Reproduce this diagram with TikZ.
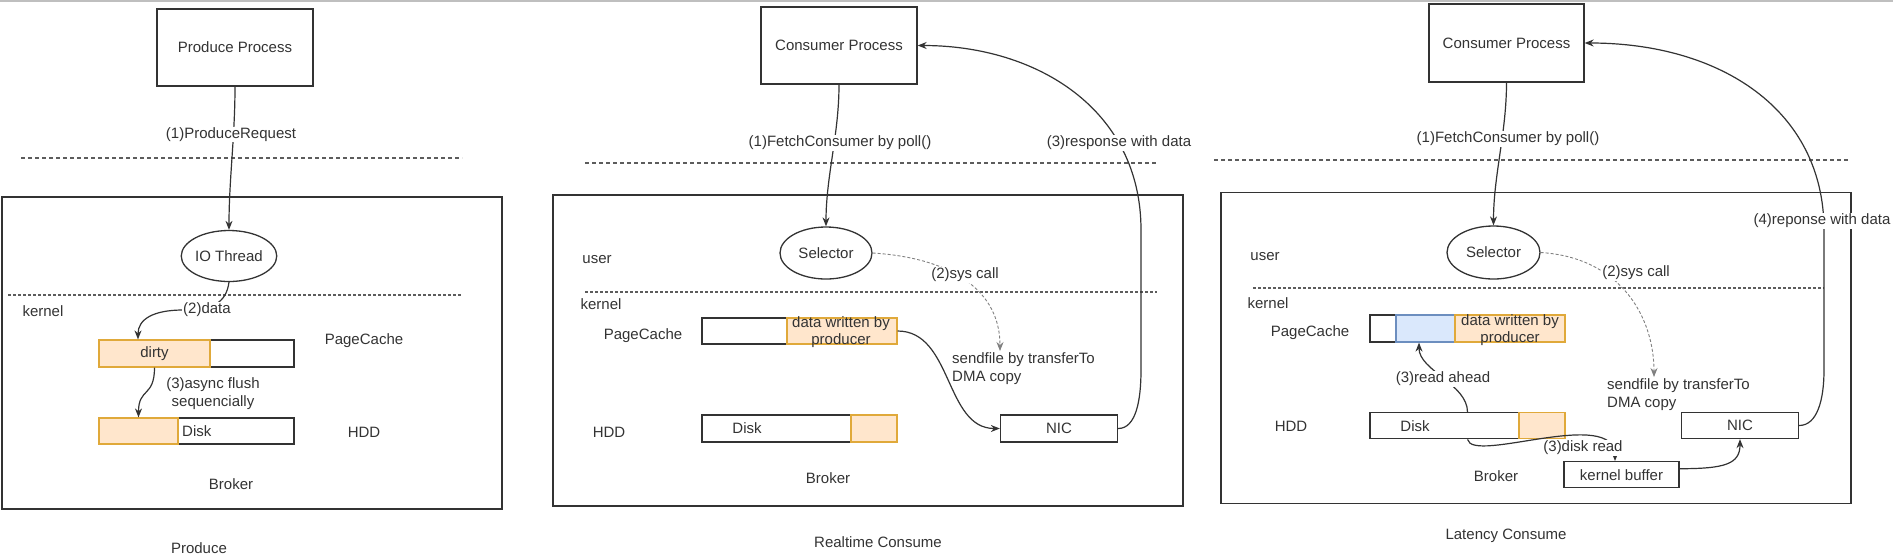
\documentclass[tikz,border=0pt]{standalone}
\usepackage{fontspec}
\setmainfont{Liberation Sans}
\usepackage{tikz}
\usetikzlibrary{shapes.geometric, arrows.meta, calc}
\usepackage{xcolor}
\definecolor{dirtyfill}{HTML}{FFE6CC}
\definecolor{dirtyline}{HTML}{E0A93A}
\definecolor{aheadfill}{HTML}{DAE8FC}
\definecolor{aheadline}{HTML}{6C8EBF}
\definecolor{inkgray}{HTML}{333333}

\begin{document}
\begin{tikzpicture}[x=1pt, y=-1pt, font=\fontsize{15}{18}\selectfont, text=inkgray]
			\tikzstyle{procbox}=[
			draw=inkgray,
			line width=1.3pt,
			minimum width=156pt,
			minimum height=77pt,
			inner sep=0pt
			]
			\tikzstyle{framebox}=[
			draw=inkgray,
			line width=1.3pt,
			minimum width=630pt,
			minimum height=311pt,
			inner sep=0pt
			]
			\tikzstyle{threadnode}=[
			draw=inkgray,
			line width=1.3pt,
			ellipse,
			minimum width=92pt,
			minimum height=52pt,
			inner sep=0pt
			]
			\tikzstyle{barnode}=[draw=inkgray, line width=1.3pt, fill=white, minimum width=195pt, minimum height=26pt, inner sep=0pt]
			\tikzstyle{dirtypart}=[draw=dirtyline, line width=1.2pt, fill=dirtyfill, minimum height=26pt, inner sep=0pt]
			\tikzstyle{aheadpart}=[draw=aheadline, line width=1.2pt, fill=aheadfill, minimum height=26pt, inner sep=0pt]
			\tikzstyle{smallbox}=[draw=inkgray, line width=1.3pt, minimum width=117pt, minimum height=26pt, inner sep=0pt]
			\tikzstyle{plain}=[inner sep=1pt, align=center]
			\tikzstyle{edgelabel}=[fill=white, inner sep=1pt, align=center]
			\tikzstyle{flow}=[draw=inkgray, line width=1.2pt, -{Stealth[length=9pt, width=7pt]}]
			\tikzstyle{syscall}=[draw=gray, line width=0.9pt, dash pattern=on 3pt off 2pt, -{Stealth[length=9pt, width=7pt]}]
			\tikzstyle{upperline}=[draw=inkgray!80, line width=1.2pt, dash pattern=on 4pt off 3pt]
			\tikzstyle{lowerline}=[draw=inkgray!80, line width=1.2pt, dash pattern=on 2.5pt off 2.5pt]
			\useasboundingbox (0,0) rectangle (1893,558);
			\draw[gray!50, line width=2pt] (0,1) -- (1893,1);
			% produce
			\node[procbox] (PPROC) at (235,47.5) {Produce Process};
			\draw[upperline] (21,158) -- (462,158);
			\node[framebox, minimum width=500pt, minimum height=312pt] (BROKA) at (252,353) {};
			\node[threadnode, minimum height=51pt] (IOT) at (229,256) {IO Thread};
			\draw[lowerline] (8,295) -- (462,295);
			\node[plain] (KERNA) at (43,311) {kernel};
			\node[barnode, minimum height=27pt] (PCA) at (196.5,353.5) {};
			\node[dirtypart, minimum width=111pt, minimum height=27pt] (DIRTY) at (154.5,353.5) {dirty};
			\node[plain] (PCLA) at (364,341) {PageCache};
			\node[barnode] (DSKA) at (196.5,431) {};
			\node[dirtypart, minimum width=79pt] (DSKAO) at (138.5,431) {};
			\node[plain, anchor=west] (DSKTA) at (181,431) {Disk};
			\node[plain] (HDDA) at (364,432) {HDD};
			\node[plain] (BRKA) at (231,484) {Broker};
			\node[plain] (TTLA) at (199,548) {Produce};
			\draw[flow] (PPROC.south) .. controls +(0,50) and +(0,-50) .. (IOT.north);
			\draw[flow] (IOT.south) .. controls +(-3,22) and +(28,0) .. (183,310) .. controls +(-30,0) and +(0,-20) .. ([xshift=-16.5pt]DIRTY.north);
			\draw[flow] (DIRTY.south) .. controls +(0,30) and +(0,-30) .. (DSKAO.north);
			\node[edgelabel] (REQA) at (231,134.5) {(1)ProduceRequest};
			\node[edgelabel] (DATAA) at (207,310) {(2)data};
			\node[plain] (FLSA) at (213,393.5) {(3)async flush\\sequencially};
			% realtime consume
			\node[procbox] (CPB) at (839,45.5) {Consumer Process};
			\draw[upperline] (585,163) -- (1157,163);
			\node[framebox] (BROKB) at (868,350.5) {};
			\node[threadnode] (SELB) at (826,253) {Selector};
			\node[plain] (USRB) at (597,260) {user};
			\draw[lowerline] (585,292) -- (1157,292);
			\node[plain] (KERNB) at (601,304) {kernel};
			\node[plain] (PCLB) at (643,336) {PageCache};
			\node[barnode] (PCB) at (799.5,331) {};
			\node[dirtypart, minimum width=110pt] (PCBO) at (842,331) {};
			\node[plain, font=\fontsize{15}{17}\selectfont] (WRTB) at (841,332.5) {data written by\\producer};
			\node[plain, anchor=north west, align=left] (SNDB) at (951,351) {sendfile by transferTo\\DMA copy};
			\node[plain] (HDDB) at (609,432) {HDD};
			\node[barnode, minimum height=27pt] (DSKB) at (799.5,428.5) {};
			\node[dirtypart, minimum width=46pt, minimum height=27pt] (DSKBO) at (874,428.5) {};
			\node[plain] (DSKTB) at (747,428.5) {Disk};
			\node[smallbox, minimum height=27pt] (NICB) at (1059,428.5) {NIC};
			\node[plain] (BRKB) at (828,478) {Broker};
			\node[plain] (TTLB) at (878,542) {Realtime Consume};
			\draw[flow] (CPB.south) .. controls +(0,50) and +(0,-50) .. (SELB.north);
			\draw[syscall] (SELB.east) .. controls +(80,5) and +(0,-60) .. ([xshift=49pt]SNDB.north west);
			\draw[flow] (PCBO.east) .. controls +(55,0) and +(-55,0) .. (NICB.west);
			\draw[flow] (NICB.east) .. controls +(18,0) and +(0,30) .. (1141,370) -- (1141,230) .. controls +(0,-120) and +(120,0) .. (CPB.east);
			\node[edgelabel] (FTCB) at (840,143) {(1)FetchConsumer by poll()};
			\node[edgelabel] (SYSB) at (965,275) {(2)sys call};
			\node[edgelabel] (RSPB) at (1119,143) {(3)response with data};
			% latency consume
			\node[procbox, minimum width=155pt, minimum height=78pt] (CPC) at (1506.5,43) {Consumer Process};
			\draw[upperline] (1214,160) -- (1850,160);
			\node[framebox] (BROKC) at (1536,348) {};
			\node[threadnode, minimum width=93pt, minimum height=53pt] (SELC) at (1493.5,252.5) {Selector};
			\node[plain] (USRC) at (1265,257) {user};
			\draw[lowerline] (1253,288) -- (1824,288);
			\node[plain] (KERNC) at (1268,303) {kernel};
			\node[plain] (PCLC) at (1310,333) {PageCache};
			\node[barnode, minimum height=27pt] (PCC) at (1467.5,328.5) {};
			\node[aheadpart, minimum width=59pt, minimum height=27pt] (PCCB) at (1425.5,328.5) {};
			\node[dirtypart, minimum width=110pt, minimum height=27pt] (PCCO) at (1510,328.5) {};
			\node[plain, font=\fontsize{15}{17}\selectfont] (WRTC) at (1510,330.5) {data written by\\producer};
			\node[plain, anchor=north west, align=left] (SNDC) at (1606,377) {sendfile by transferTo\\DMA copy};
			\node[plain] (HDDC) at (1291,426) {HDD};
			\node[barnode] (DSKC) at (1467.5,425.75) {};
			\node[dirtypart, minimum width=46pt] (DSKCO) at (1542,425.75) {};
			\node[plain] (DSKTC) at (1415,426) {Disk};
			\node[smallbox] (NICC) at (1740,425.5) {NIC};
			\node[smallbox, minimum width=115pt] (KBUF) at (1621.5,474.7) {kernel buffer};
			\node[plain] (BRKC) at (1496,476) {Broker};
			\node[plain] (TTLC) at (1506,536) {Latency Consume};
			\draw[flow] (CPC.south) .. controls +(0,50) and +(0,-50) .. (SELC.north);
			\draw[syscall] (SELC.east) .. controls +(80,5) and +(0,-60) .. ([xshift=48pt]SNDC.north west);
			\draw[flow] (DSKC.north) .. controls +(0,-28) and +(0,28) .. ([xshift=-6.5pt]PCCB.south);
			\draw[flow] (DSKC.south) .. controls +(5,25) and +(0,-55) .. ([xshift=-6.5pt]KBUF.north);
			\draw[flow] ([yshift=6pt]KBUF.east) .. controls +(45,0) and +(0,25) .. (NICC.south);
			\draw[flow] (NICC.east) .. controls +(18,0) and +(0,30) .. (1824,370) -- (1824,230) .. controls +(0,-120) and +(136,0) .. (CPC.east);
			\node[edgelabel] (FTCC) at (1508,139) {(1)FetchConsumer by poll()};
			\node[edgelabel] (SYSC) at (1636,273) {(2)sys call};
			\node[edgelabel] (AHDC) at (1443,379) {(3)read ahead};
			\node[edgelabel] (DRDC) at (1583,448) {(3)disk read};
			\node[edgelabel] (RSPC) at (1822,221) {(4)reponse with data};
		\end{tikzpicture}
\end{document}
